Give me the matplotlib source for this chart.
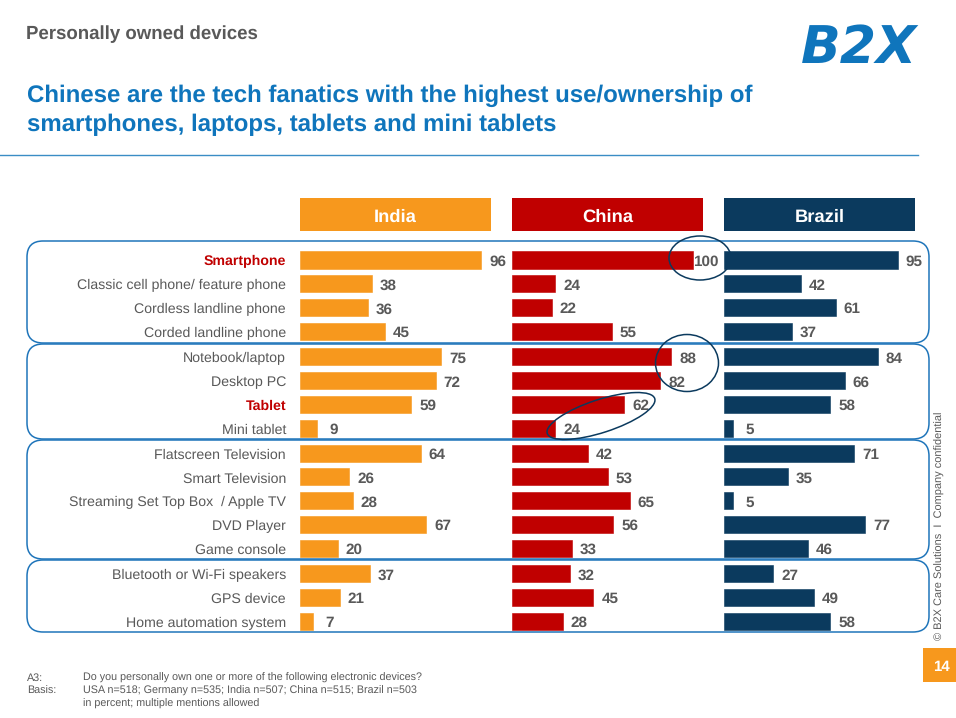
import matplotlib
matplotlib.use("Agg")
import matplotlib.pyplot as plt
from matplotlib.patches import FancyBboxPatch, Rectangle, Ellipse

plt.rcParams['font.family'] = ['Liberation Sans', 'DejaVu Sans']
plt.rcParams['text.hinting'] = 'no_hinting'

categories = ["Smartphone", "Classic cell phone/ feature phone", "Cordless landline phone",
              "Corded landline phone", "Notebook/laptop", "Desktop PC", "Tablet", "Mini tablet",
              "Flatscreen Television", "Smart Television", "Streaming Set Top Box  / Apple TV",
              "DVD Player", "Game console", "Bluetooth or Wi-Fi speakers", "GPS device",
              "Home automation system"]
india = [96, 38, 36, 45, 75, 72, 59, 9, 64, 26, 28, 67, 20, 37, 21, 7]
china = [100, 24, 22, 55, 88, 82, 62, 24, 42, 53, 65, 56, 33, 32, 45, 28]
brazil = [95, 42, 61, 37, 84, 66, 58, 5, 71, 35, 5, 77, 46, 27, 49, 58]
highlighted = ["Smartphone", "Tablet"]
group_sizes = [4, 4, 5, 3]

W, H = 956, 718
ORANGE, RED, NAVY = "#F7981D", "#C00000", "#0B3A5E"
BLUE = "#0F75BC"
GRAY = "#595959"
LINE = "#1F75BA"

fig = plt.figure(figsize=(W / 100, H / 100), dpi=100, facecolor="white")
bg = fig.add_axes([0, 0, 1, 1], zorder=0)
bg.set_xlim(0, W); bg.set_ylim(H, 0); bg.axis("off")
top = fig.add_axes([0, 0, 1, 1], zorder=5)
top.set_xlim(0, W); top.set_ylim(H, 0); top.axis("off"); top.patch.set_alpha(0)

# Row layout
PITCH, Y0 = 23.75, 260
group_gaps = [0, 0.08, 0.13, 0.21]
rows, r = [], 0
for size, gap in zip(group_sizes, group_gaps):
    for _ in range(size):
        rows.append(r + gap)
        r += 1

AX_TOP, AX_BOT = 241, 640
ylim = ((AX_BOT - Y0) / PITCH, (AX_TOP - Y0) / PITCH)

panels = [("India", india, ORANGE, 300, 1.885, 491),
          ("China", china, RED, 512, 1.81, 703),
          ("Brazil", brazil, NAVY, 724, 1.83, 915)]
for name, vals, col, left, scale, right in panels:
    ax = fig.add_axes([left / W, 1 - AX_BOT / H, (right + 20 - left) / W, (AX_BOT - AX_TOP) / H], zorder=2)
    ax.patch.set_alpha(0)
    ax.set_xlim(0, (right + 20 - left) / scale)
    ax.set_ylim(*ylim)
    ax.barh(rows, vals, height=0.72, color=col, edgecolor=col, linewidth=0.4)
    ax.axis("off")
    for y, v in zip(rows, vals):
        off = 12.5 if v == 100 else 16.5
        ax.annotate(str(v), (v, y), xytext=(off * 0.72, -0.3), textcoords="offset points",
                    ha="center", va="center_baseline", fontsize=11, fontweight="bold", color=GRAY,
                    annotation_clip=False, zorder=6)
    bg.add_patch(Rectangle((left, 198), right - left, 32.5, fc=col, ec="none"))
    bg.text((left + right) / 2, 215.5, name, color="white", fontsize=13.2, fontweight="bold",
            ha="center", va="center_baseline")

# Category labels
for y, c in zip(rows, categories):
    hl = c in highlighted
    bg.text(286, Y0 + y * PITCH + 0.5, c, ha="right", va="center_baseline", fontsize=10.2,
            fontweight="bold" if hl else "normal", color=RED if hl else GRAY)

# Group boxes
for y0, y1 in [(241, 343), (344, 439), (440, 559), (560, 632)]:
    bg.add_patch(FancyBboxPatch((27 + 16, y0 + 16), 902 - 32, y1 - y0 - 32,
                                boxstyle="round,pad=16,rounding_size=16",
                                fc="none", ec=LINE, lw=1.1))

# Highlight ellipses
for (cx, cy, w, h, a) in [(700, 258, 62, 44, 0), (687, 363, 63, 57, 0), (601, 416, 113, 33, -18)]:
    top.add_patch(Ellipse((cx, cy), w, h, angle=a, fc="none", ec=NAVY, lw=1.1))

# Header text
bg.text(26, 32.5, "Personally owned devices", fontsize=13.4, fontweight="bold", color=GRAY,
        ha="left", va="center_baseline")
bg.text(27, 93.5, "Chinese are the tech fanatics with the highest use/ownership of",
        fontsize=17.3, fontweight="bold", color=BLUE, ha="left", va="center_baseline")
bg.text(27, 122.5, "smartphones, laptops, tablets and mini tablets",
        fontsize=17.3, fontweight="bold", color=BLUE, ha="left", va="center_baseline")
bg.plot([0, 918], [155, 155], color="#3A8DC5", lw=1)
bg.text(859.5, 43, "B2X", fontsize=37.5, fontweight="bold", fontstyle="italic", color=BLUE,
        family="DejaVu Sans", ha="center", va="center_baseline")

# Footer
fc = "#595959"
for y, a, b in [(677, "A3:", "Do you personally own one or more of the following electronic devices?"),
                (690, "Basis:", "USA n=518; Germany n=535; India n=507; China n=515; Brazil n=503"),
                (703, "", "in percent; multiple mentions allowed")]:
    bg.text(27, y, a, fontsize=7.75, color=fc, ha="left", va="center_baseline")
    bg.text(83, y, b, fontsize=7.75, color=fc, ha="left", va="center_baseline")
bg.text(940, 640, "© B2X Care Solutions  I  Company confidential", rotation=90, fontsize=7.88,
        color=fc, ha="center", va="bottom")
bg.add_patch(Rectangle((923, 648), 33, 34, fc=ORANGE, ec="none"))
bg.text(941, 666, "14", color="white", fontsize=10.8, fontweight="bold", ha="center", va="center_baseline")

fig.savefig("out.png", dpi=100, facecolor="white")
